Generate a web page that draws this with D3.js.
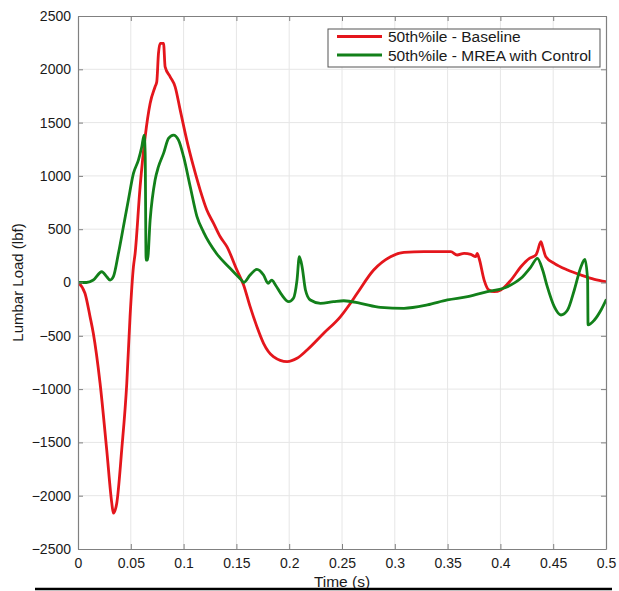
<!DOCTYPE html>
<html>
<head>
<meta charset="utf-8">
<script src="https://cdn.jsdelivr.net/npm/d3@7/dist/d3.min.js"></script>
<style>
  html, body { margin: 0; padding: 0; background: #fff; }
  svg { display: block; font-family: "Liberation Sans", Arial, sans-serif; }
</style>
</head>
<body>
<svg id="chart" width="619" height="591"></svg>
<script>
// ---- data ----
const seriesNames = ["50th%ile - Baseline", "50th%ile - MREA with Control"];

const baselineTime = [0, 0.0066, 0.0114, 0.0145, 0.0209, 0.0272, 0.032, 0.0335, 0.0367, 0.0414, 0.0462, 0.0493, 0.0525, 0.0541, 0.0588, 0.0636, 0.0683, 0.073, 0.0746, 0.0762, 0.0778, 0.081, 0.0825, 0.0873, 0.092, 0.0968, 0.103, 0.1094, 0.1157, 0.122, 0.1284, 0.1347, 0.141, 0.1505, 0.1568, 0.163, 0.1694, 0.1757, 0.185, 0.198, 0.2074, 0.2169, 0.2327, 0.2486, 0.258, 0.2644, 0.28, 0.296, 0.3087, 0.3276, 0.353, 0.359, 0.3656, 0.372, 0.3766, 0.378, 0.3798, 0.3846, 0.389, 0.394, 0.4004, 0.41, 0.4194, 0.4275, 0.4336, 0.435, 0.4383, 0.44, 0.443, 0.451, 0.4636, 0.4763, 0.489, 0.5];
const baselineLoad = [0, -101, -320, -476, -945, -1570, -2070, -2164, -2070, -1570, -945, -320, 148, 274, 898, 1367, 1680, 1836, 1883, 2149, 2243, 2243, 2023, 1930, 1836, 1617, 1336, 1086, 867, 680, 555, 429, 336, 117, -23, -227, -414, -570, -695, -742, -711, -633, -476, -320, -195, -101, 117, 242, 283, 289, 289, 258, 273, 264, 242, 273, 227, 23, -70, -86, -70, 23, 148, 227, 258, 289, 383, 336, 242, 180, 117, 70, 30, 8];

const mreaTime = [0, 0.008, 0.0145, 0.0225, 0.0272, 0.0304, 0.0335, 0.0383, 0.043, 0.0477, 0.0525, 0.0572, 0.0604, 0.0626, 0.0636, 0.0645, 0.0658, 0.0683, 0.073, 0.0762, 0.081, 0.0857, 0.0904, 0.0952, 0.1, 0.1063, 0.1126, 0.119, 0.131, 0.144, 0.155, 0.157, 0.163, 0.1694, 0.1757, 0.18, 0.1835, 0.187, 0.193, 0.1995, 0.204, 0.2074, 0.2096, 0.2122, 0.2154, 0.22, 0.2296, 0.242, 0.2517, 0.2676, 0.2865, 0.3087, 0.3308, 0.3498, 0.369, 0.3877, 0.4067, 0.4194, 0.429, 0.435, 0.44, 0.4444, 0.451, 0.4573, 0.4636, 0.47, 0.4763, 0.48, 0.4826, 0.483, 0.489, 0.4953, 0.5];
const mreaLoad = [0, 0, 23, 101, 54, 23, 54, 274, 523, 773, 1023, 1148, 1273, 1383, 1211, 211, 211, 586, 961, 1086, 1211, 1352, 1383, 1336, 1180, 898, 620, 470, 274, 133, 20, 0, 70, 124, 70, -8, 23, -23, -117, -180, -148, 23, 242, 148, -70, -164, -195, -180, -171, -195, -233, -242, -211, -164, -133, -86, -39, 39, 148, 227, 117, -39, -227, -305, -258, -70, 148, 217, 23, -398, -352, -258, -165];

const xTicks = [0, 0.05, 0.1, 0.15, 0.2, 0.25, 0.3, 0.35, 0.4, 0.45, 0.5];
const yTicks = [-2500, -2000, -1500, -1000, -500, 0, 500, 1000, 1500, 2000, 2500];
const xLabel = "Time (s)";
const yLabel = "Lumbar Load (lbf)";

// ---- layout ----
const colors = ["#e4161c", "#12801a"];
const L = 78, R = 606, T = 16, B = 549;
const svg = d3.select("#chart");

const x = d3.scaleLinear().domain([0, 0.5]).range([L, R]);
const y = d3.scaleLinear().domain([-2500, 2500]).range([B, T]);

// grid
const g = svg.append("g");
g.selectAll("line.gx").data(xTicks.slice(1, -1)).join("line")
  .attr("x1", d => x(d)).attr("x2", d => x(d)).attr("y1", T).attr("y2", B)
  .attr("stroke", "#e6e6e6").attr("stroke-width", 1);
g.selectAll("line.gy").data(yTicks.slice(1, -1)).join("line")
  .attr("y1", d => y(d)).attr("y2", d => y(d)).attr("x1", L).attr("x2", R)
  .attr("stroke", "#e6e6e6").attr("stroke-width", 1);

// lines
const line = d3.line().x(d => x(d[0])).y(d => y(d[1])).curve(d3.curveMonotoneX);
const series = [d3.zip(baselineTime, baselineLoad), d3.zip(mreaTime, mreaLoad)];
svg.append("defs").append("clipPath").attr("id", "clip")
  .append("rect").attr("x", L).attr("y", T).attr("width", R - L).attr("height", B - T);
svg.append("g").attr("clip-path", "url(#clip)")
  .selectAll("path").data(series).join("path")
  .attr("d", line).attr("fill", "none")
  .attr("stroke", (d, i) => colors[i]).attr("stroke-width", 2.8)
  .attr("stroke-linejoin", "round").attr("stroke-linecap", "round");

// axes
const axisColor = "#808080";
const ax = svg.append("g").attr("transform", `translate(0,${B})`)
  .call(d3.axisBottom(x).tickValues(xTicks).tickFormat(d3.format("")).tickSizeInner(-5).tickSizeOuter(0).tickPadding(9));
const axT = svg.append("g").attr("transform", `translate(0,${T})`)
  .call(d3.axisTop(x).tickValues(xTicks).tickFormat("").tickSizeInner(-5).tickSizeOuter(0));
const ay = svg.append("g").attr("transform", `translate(${L},0)`)
  .call(d3.axisLeft(y).tickValues(yTicks).tickFormat(d3.format("d")).tickSizeInner(-5).tickSizeOuter(0).tickPadding(7));
const ayR = svg.append("g").attr("transform", `translate(${R},0)`)
  .call(d3.axisRight(y).tickValues(yTicks).tickFormat("").tickSizeInner(-5).tickSizeOuter(0));
[ax, axT, ay, ayR].forEach(a => {
  a.select(".domain").attr("stroke", axisColor).attr("stroke-width", 1.2);
  a.selectAll(".tick line").attr("stroke", axisColor);
  a.selectAll("text").attr("fill", "#1a1a1a").attr("font-size", 14)
    .attr("font-family", "'Liberation Sans', Arial, sans-serif");
});

// axis labels
svg.append("text").attr("x", (L + R) / 2).attr("y", 587).attr("text-anchor", "middle")
  .attr("font-size", 15.5).attr("fill", "#1a1a1a").text(xLabel);
svg.append("text").attr("transform", `translate(23,${(T + B) / 2}) rotate(-90)`)
  .attr("text-anchor", "middle").attr("font-size", 15).attr("fill", "#1a1a1a").text(yLabel);

// bottom rule
svg.append("line").attr("x1", 35).attr("x2", 612).attr("y1", 589).attr("y2", 589)
  .attr("stroke", "#000").attr("stroke-width", 2.5);

// legend
const lg = svg.append("g");
lg.append("rect").attr("x", 328).attr("y", 29).attr("width", 272).attr("height", 38)
  .attr("fill", "#fff").attr("stroke", "#555").attr("stroke-width", 1);
seriesNames.forEach((n, i) => {
  const yy = 36.5 + i * 18.5;
  lg.append("line").attr("x1", 337).attr("x2", 382).attr("y1", yy).attr("y2", yy)
    .attr("stroke", colors[i]).attr("stroke-width", 2.8);
  lg.append("text").attr("x", 388).attr("y", yy + 5.5).attr("font-size", 15.5)
    .attr("fill", "#1a1a1a").text(n);
});
</script>
</body>
</html>
